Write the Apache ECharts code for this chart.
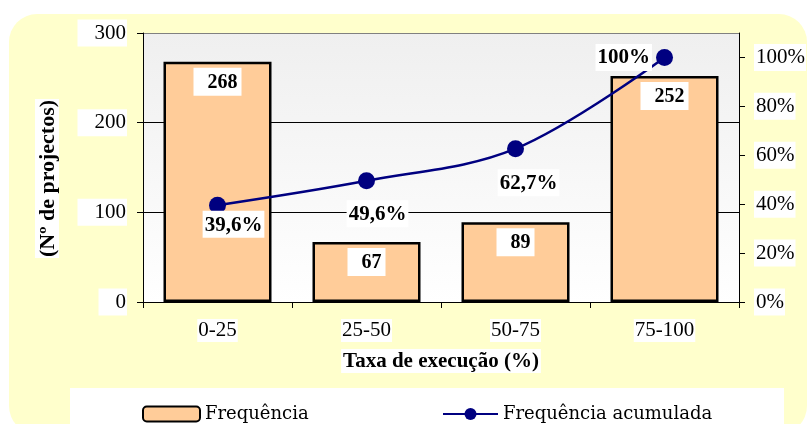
<!DOCTYPE html>
<html>
<head>
<meta charset="utf-8">
<script src="https://cdn.jsdelivr.net/npm/echarts@6/dist/echarts.min.js"></script>
<style>
  html, body { margin: 0; padding: 0; background: #fff; }
  #chart { width: 809px; height: 424px; }
</style>
</head>
<body>
<div id="chart"></div>
<script>
const categories = ['0-25', '25-50', '50-75', '75-100']
const frequencia = [268, 67, 89, 252]
const acumulada = [39.6, 49.6, 62.7, 100]
const acumuladaLabels = ['39,6%', '49,6%', '62,7%', '100%']

const FONT = '"Liberation Serif", "Times New Roman", serif'
const LEGEND_FONT = '"DejaVu Serif", serif'
const myChart = echarts.init(document.getElementById('chart'))

// label placement of the cumulative line, per point
const lineLabelPos = [
  { position: 'bottom', distance: 0, offset: [16, -3] },
  { position: 'bottom', distance: 11, offset: [11, 0] },
  { position: 'bottom', distance: 12, offset: [13, 0] },
  { position: 'left', distance: 4, offset: [0, 0] }
]

myChart.setOption({
  animation: false,
  textStyle: { fontFamily: FONT },
  graphic: [
    { type: 'rect', z: -10, shape: { x: 9, y: 14, width: 798, height: 420, r: 28 },
      style: { fill: '#FFFFCC' } },
    { type: 'rect', z: -5, shape: { x: 70, y: 388, width: 714, height: 40 },
      style: { fill: '#fff' } }
  ],
  grid: {
    left: 143, right: 67, top: 33, bottom: 122,
    show: true,
    borderWidth: 0,
    backgroundColor: new echarts.graphic.LinearGradient(0, 0, 0, 1, [
      { offset: 0, color: '#EFEFEF' },
      { offset: 1, color: '#FFFFFF' }
    ])
  },
  legend: [
    {
      left: 137, top: 400,
      itemWidth: 57, itemHeight: 15,
      textStyle: { fontFamily: LEGEND_FONT, fontSize: 18, color: '#000' },
      data: ['Frequência']
    },
    {
      left: 437, top: 400,
      itemWidth: 55, itemHeight: 15,
      textStyle: { fontFamily: LEGEND_FONT, fontSize: 18, color: '#000' },
      data: ['Frequência acumulada']
    }
  ],
  xAxis: {
    type: 'category',
    data: categories,
    name: 'Taxa de execução (%)',
    nameLocation: 'middle',
    nameGap: 47,
    nameTextStyle: { fontFamily: FONT, fontSize: 21, fontWeight: 'bold', color: '#000',
      backgroundColor: '#fff', padding: [2, 2, 1, 2] },
    axisLine: { lineStyle: { color: '#000', width: 1 } },
    axisTick: { show: true, length: 6, lineStyle: { color: '#000' } },
    axisLabel: { fontFamily: FONT, fontSize: 21, color: '#000', margin: 17,
      backgroundColor: '#fff', padding: [1, 1] }
  },
  yAxis: [
    {
      type: 'value', min: 0, max: 300, interval: 100,
      name: '{t|(Nº de projectos)}    ',
      nameLocation: 'middle',
      nameGap: 84,
      nameRotate: 90,
      nameTextStyle: {
        fontFamily: FONT, fontSize: 22, fontWeight: 'bold', color: '#000',
        rich: { t: { fontFamily: FONT, fontSize: 22, fontWeight: 'bold', color: '#000',
          backgroundColor: '#fff', padding: [2, 1, 0, 1] } }
      },
      axisLine: { show: true, lineStyle: { color: '#000', width: 1 } },
      axisTick: { show: true, length: 6, lineStyle: { color: '#000' } },
      axisLabel: { fontFamily: FONT, fontSize: 21, color: '#000', margin: 16,
        backgroundColor: '#fff', padding: [3, 1, 3, 17] },
      splitLine: { show: true, lineStyle: { color: ['#000', '#000', '#000', '#808080'], width: 1 } }
    },
    {
      type: 'value', min: 0, max: 110, interval: 20,
      position: 'right',
      axisLine: { show: true, lineStyle: { color: '#000', width: 1 } },
      axisTick: { show: true, length: 6, customValues: [0, 20, 40, 60, 80, 100],
        lineStyle: { color: '#000' } },
      axisLabel: { fontFamily: FONT, fontSize: 21, color: '#000', margin: 15,
        customValues: [0, 20, 40, 60, 80, 100],
        formatter: v => v + '%',
        backgroundColor: '#fff', padding: [3, 1, 3, 2] },
      splitLine: { show: false }
    }
  ],
  series: [
    {
      name: 'Frequência',
      type: 'bar',
      data: frequencia,
      barWidth: 108,
      itemStyle: { color: '#FFCC99', borderColor: '#000', borderWidth: 2.5 },
      label: {
        show: true, position: 'insideTop', distance: 6,
        fontFamily: FONT, fontSize: 20, fontWeight: 'bold', color: '#000',
        backgroundColor: '#fff', padding: [5, 4, 3, 14]
      }
    },
    {
      name: 'Frequência acumulada',
      type: 'line',
      yAxisIndex: 1,
      data: acumulada.map((v, i) => ({ value: v, label: lineLabelPos[i] })),
      smooth: 0.35,
      symbol: 'circle',
      symbolSize: 17,
      lineStyle: { color: '#000080', width: 2.5 },
      itemStyle: { color: '#000080' },
      label: {
        show: true,
        formatter: p => acumuladaLabels[p.dataIndex],
        fontFamily: FONT, fontSize: 21, fontWeight: 'bold', color: '#000',
        backgroundColor: '#fff', padding: [4, 2, 2, 2]
      },
      z: 5
    }
  ]
})
</script>
</body>
</html>
